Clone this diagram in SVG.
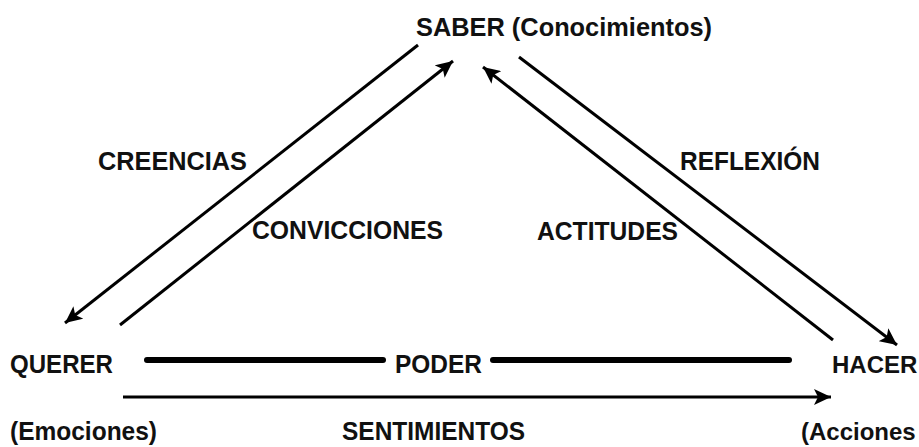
<svg xmlns="http://www.w3.org/2000/svg" width="919" height="447" viewBox="0 0 919 447">
<style>
.t{font-family:"Liberation Sans",Arial,sans-serif;font-weight:bold;font-size:26px;fill:#111;}
.e{font-size:24px;}
.ln{stroke:#000;stroke-width:3;fill:none;}
.thick{stroke:#000;stroke-width:6;stroke-linecap:round;fill:none;}
</style>
<defs>
<marker id="ah" markerUnits="userSpaceOnUse" markerWidth="20" markerHeight="16" refX="17" refY="8" orient="auto">
<path d="M0,0 L17,8 L0,16 L4,8 Z" fill="#000"/>
</marker>
</defs>
<g id="saber"><text class="t" x="416" y="36" textLength="296" lengthAdjust="spacingAndGlyphs">SABER (Conocimientos)</text></g>
<g id="querer"><text class="t" x="10" y="373" textLength="103" lengthAdjust="spacingAndGlyphs">QUERER</text>
<text class="t" x="10" y="440" textLength="147" lengthAdjust="spacingAndGlyphs">(Emociones)</text></g>
<g id="hacer"><text class="t e" x="832" y="373">HACER</text>
<text class="t e" x="801" y="440">(Acciones</text></g>
<g id="connectors">
<line class="ln" x1="418" y1="45" x2="65" y2="323" marker-end="url(#ah)"/>
<line class="ln" x1="120" y1="325" x2="453" y2="61" marker-end="url(#ah)"/>
<line class="ln" x1="833" y1="340" x2="483" y2="67" marker-end="url(#ah)"/>
<line class="ln" x1="519" y1="57" x2="897" y2="345" marker-end="url(#ah)"/>
<line class="thick" x1="147" y1="360" x2="383" y2="360"/>
<line class="thick" x1="493" y1="360" x2="789" y2="360"/>
<line stroke="#000" stroke-width="3" x1="123" y1="397" x2="831" y2="397" marker-end="url(#ah)"/>
</g>
<g id="labels">
<text class="t" x="98" y="170" textLength="149" lengthAdjust="spacingAndGlyphs">CREENCIAS</text>
<text class="t" x="252" y="239" textLength="191" lengthAdjust="spacingAndGlyphs">CONVICCIONES</text>
<text class="t" x="680" y="170" textLength="140" lengthAdjust="spacingAndGlyphs">REFLEXIÓN</text>
<text class="t" x="537" y="240" textLength="141" lengthAdjust="spacingAndGlyphs">ACTITUDES</text>
<text class="t" x="395" y="373" textLength="87" lengthAdjust="spacingAndGlyphs">PODER</text>
<text class="t" x="342" y="440" textLength="183" lengthAdjust="spacingAndGlyphs">SENTIMIENTOS</text>
</g>
</svg>
